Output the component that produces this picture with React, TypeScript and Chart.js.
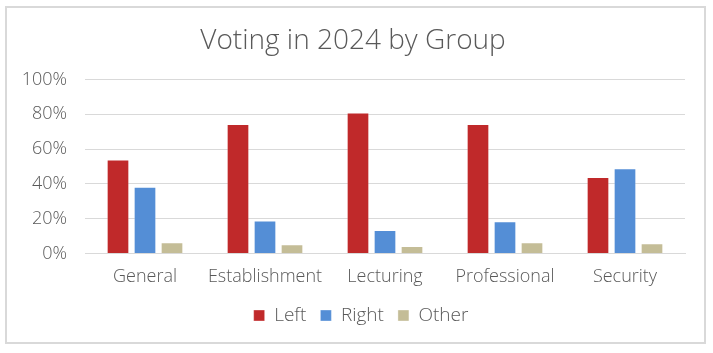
import React, { useEffect, useRef } from "react";
import { Chart, registerables } from "chart.js";

Chart.register(...registerables);

const categories = ["General", "Establishment", "Lecturing", "Professional", "Security"];
const leftValues = [54, 74.4, 81, 74.4, 44];
const rightValues = [38.3, 19, 13.5, 18.5, 49];
const otherValues = [6.4, 5.2, 4.2, 6.4, 5.8];
const seriesNames = ["Left", "Right", "Other"];
const seriesColors = ["#C0292A", "#548ED6", "#C4BD97"];
const yTicks = [0, 20, 40, 60, 80, 100];

const FONT = "'Open Sans', sans-serif";
const TEXT = "#595959";

const legendShift = {
  id: "legendShift",
  afterLayout(chart: any) {
    const lg = chart.legend;
    if (!lg) return;
    lg.left += 8;
    lg.right += 8;
    lg.top -= 1;
    lg.bottom -= 1;
  },
};

export default function App() {
  const ref = useRef<HTMLCanvasElement | null>(null);
  useEffect(() => {
    document.body.style.margin = "0";
    if (!ref.current) return;
    const chart = new Chart(ref.current, {
      type: "bar",
      data: {
        labels: categories,
        datasets: [leftValues, rightValues, otherValues].map((d, i) => ({
          label: seriesNames[i],
          data: d,
          backgroundColor: seriesColors[i],
          borderColor: "rgba(255,255,255,0.35)",
          borderWidth: 1,
          categoryPercentage: 0.675,
          barPercentage: 0.84,
        })),
      },
      plugins: [legendShift],
      options: {
        animation: false,
        responsive: false,
        maintainAspectRatio: false,
        layout: { padding: { left: 14, right: 19, top: 0, bottom: 6 } },
        plugins: {
          title: {
            display: true,
            text: "Voting in 2024 by Group",
            color: TEXT,
            font: { family: FONT, size: 28, weight: "300" as any },
            padding: { top: 16, bottom: 22 },
          },
          legend: {
            position: "bottom",
            labels: {
              color: TEXT,
              boxWidth: 11,
              boxHeight: 11,
              padding: 14,
              font: { family: FONT, size: 19, weight: "300" as any },
            },
          },
          tooltip: { enabled: false },
        },
        scales: {
          x: {
            grid: { display: false },
            border: { color: "#D9D9D9" },
            ticks: {
              color: TEXT,
              padding: 5,
              maxRotation: 0,
              minRotation: 0,
              autoSkip: false,
              font: { family: FONT, size: 18, weight: "300" as any },
            },
          },
          y: {
            min: 0,
            max: 100,
            afterBuildTicks: (axis: any) => {
              axis.ticks = yTicks.map((v) => ({ value: v }));
            },
            afterFit: (axis: any) => {
              axis.width = 64;
            },
            grid: { color: "#D9D9D9", drawTicks: false },
            border: { display: false },
            ticks: {
              color: TEXT,
              padding: 18,
              font: { family: FONT, size: 18, weight: "300" as any },
              callback: (v: any) => v + "%",
            },
          },
        },
      },
    });
    return () => chart.destroy();
  }, []);
  return (
    <div
      style={{
        position: "absolute",
        left: 5,
        top: 6,
        width: 701,
        height: 338,
        border: "2px solid #D9D9D9",
        boxSizing: "border-box",
        background: "#fff",
      }}
    >
      <canvas ref={ref} width={697} height={334} style={{ display: "block" }} />
    </div>
  );
}
